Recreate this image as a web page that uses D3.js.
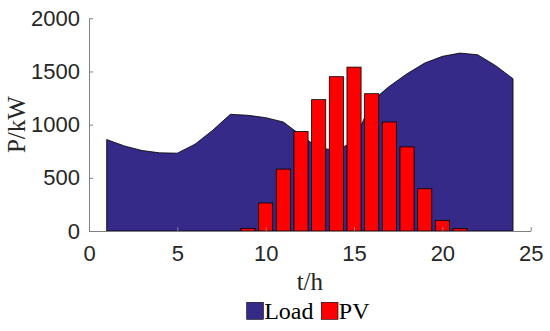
<!DOCTYPE html>
<html>
<head>
<meta charset="utf-8">
<script src="https://cdn.jsdelivr.net/npm/d3@7"></script>
<style>
  body { margin: 0; background: #fff; }
  svg { display: block; }
</style>
</head>
<body>
<svg id="chart"></svg>
<script>
var w = 550;
var h = 331;

// hourly data
var hours = [1,2,3,4,5,6,7,8,9,10,11,12,13,14,15,16,17,18,19,20,21,22,23,24];
var load = [860,800,757,735,732,816,947,1097,1088,1066,1025,900,780,760,840,1220,1360,1479,1579,1642,1673,1657,1557,1432];
var pvHours = [9,10,11,12,13,14,15,16,17,18,19,20,21];
var pv = [25,263,582,935,1235,1451,1541,1291,1025,791,397,100,22];

var xTicks = [0,5,10,15,20,25];
var yTicks = [0,500,1000,1500,2000];

var legendItems = [
  {name: 'Load', color: '#352a87'},
  {name: 'PV', color: '#ff0000'}
];

var svg = d3.select('#chart').attr('width', w).attr('height', h);

var plotL = 89, plotR = 530.7, plotT = 18.3, plotB = 231;

var x = d3.scaleLinear().domain([0, 25]).range([plotL, plotR]);
var y = d3.scaleLinear().domain([0, 2000]).range([plotB, plotT]);

var axisColor = '#808080';
var textColor = '#262626';

// load area
var area = d3.area()
  .x(function (d, i) { return x(hours[i]); })
  .y0(y(0))
  .y1(function (d) { return y(d); });

svg.append('path')
  .datum(load)
  .attr('d', area)
  .attr('fill', '#352a87')
  .attr('stroke', '#000')
  .attr('stroke-width', 0.8);

// pv bars
var bw = x(0.8) - x(0);
svg.selectAll('rect.pv')
  .data(pv)
.enter().append('rect')
  .attr('class', 'pv')
  .attr('x', function (d, i) { return x(pvHours[i]) - bw / 2; })
  .attr('y', function (d) { return y(d); })
  .attr('width', bw)
  .attr('height', function (d) { return y(0) - y(d); })
  .attr('fill', '#ff0000')
  .attr('stroke', '#000')
  .attr('stroke-width', 0.8);

// axes
var xAxis = d3.axisBottom(x).tickValues(xTicks).tickFormat(d3.format('d'))
  .tickSizeInner(-4).tickSizeOuter(0).tickPadding(14);
var yAxis = d3.axisLeft(y).tickValues(yTicks).tickFormat(d3.format('d'))
  .tickSizeInner(-4).tickSizeOuter(0).tickPadding(9);

var gx = svg.append('g').attr('transform', 'translate(0,' + plotB + ')').call(xAxis);
var gy = svg.append('g').attr('transform', 'translate(' + plotL + ',0)').call(yAxis);

[gx, gy].forEach(function (g) {
  g.select('.domain').attr('stroke', axisColor);
  g.selectAll('.tick line').attr('stroke', axisColor);
  g.selectAll('.tick text')
    .attr('fill', textColor)
    .style('font-family', '"Liberation Sans", Arial, sans-serif')
    .style('font-size', '22px');
});

// axis labels
svg.append('text')
  .attr('x', (plotL + plotR) / 2)
  .attr('y', 290)
  .attr('text-anchor', 'middle')
  .style('font-family', '"Liberation Serif", "Times New Roman", serif')
  .style('font-size', '25px')
  .attr('fill', textColor)
  .text('t/h');

svg.append('text')
  .attr('transform', 'translate(25,' + ((plotT + plotB) / 2) + ') rotate(-90)')
  .attr('text-anchor', 'middle')
  .style('font-family', '"Liberation Serif", "Times New Roman", serif')
  .style('font-size', '25px')
  .attr('fill', textColor)
  .text('P/kW');

// legend
var lx = [246.7, 321.3];
var leg = svg.selectAll('g.leg')
  .data(legendItems)
.enter().append('g')
  .attr('class', 'leg')
  .attr('transform', function (d, i) { return 'translate(' + lx[i] + ',302.3)'; });

leg.append('rect')
  .attr('width', 16.7)
  .attr('height', 17)
  .attr('fill', function (d) { return d.color; })
  .attr('stroke', '#000')
  .attr('stroke-width', 0.6);

leg.append('text')
  .attr('x', 17.5)
  .attr('y', 16.8)
  .style('font-family', '"Liberation Serif", "Times New Roman", serif')
  .style('font-size', '24px')
  .attr('fill', '#000')
  .text(function (d) { return d.name; });
</script>
</body>
</html>
